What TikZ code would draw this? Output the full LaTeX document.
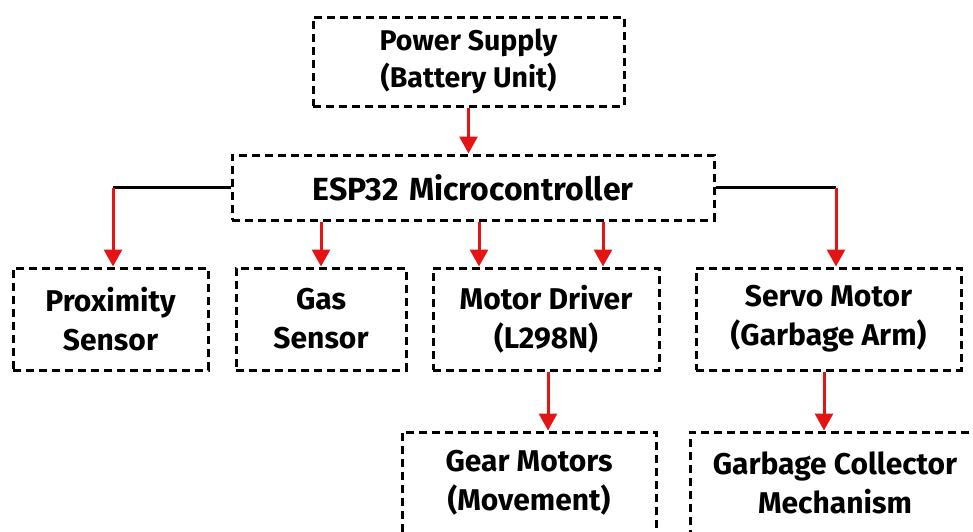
\documentclass[tikz,border=0pt]{standalone}
\usepackage{fontspec}
\setmainfont{Fira Sans}
\usetikzlibrary{arrows.meta}
\definecolor{arrred}{RGB}{228,20,20}
\begin{document}
\begin{tikzpicture}[x=1pt,y=-1pt,
  box/.style={draw=black, line width=3pt, dash pattern=on 8pt off 5pt, rectangle, align=center,
    inner sep=0pt, font=\fontsize{30}{39}\selectfont\bfseries},
  arr/.style={draw=arrred, line width=3pt, -{Triangle[width=18pt,length=17pt]}},
  blk/.style={draw=black, line width=2.6pt}]
\useasboundingbox (0,0) rectangle (973,531);
\clip (0,0) rectangle (973,531);
\node[box, minimum width=311pt, minimum height=89pt, font=\fontsize{28.5}{37}\selectfont\bfseries] (ps) at (468.5,61.5) {Power Supply\\(Battery Unit)};
\node[box, minimum width=482pt, minimum height=65pt, font=\fontsize{32}{38}\selectfont\bfseries] (esp) at (473,187.5) {ESP32\,\,Microcontroller};
\node[box, minimum width=195pt, minimum height=102pt] (prox) at (110.5,319) {Proximity\\Sensor};
\node[box, minimum width=170pt, minimum height=102pt] (gas) at (321,319) {Gas\\Sensor};
\node[box, minimum width=226pt, minimum height=102pt] (md) at (546,319) {Motor Driver\\(L298N)};
\node[box, minimum width=265pt, minimum height=102pt] (servo) at (828.5,319) {Servo Motor\\(Garbage Arm)};
\node[box, minimum width=254pt, minimum height=102pt] (gear) at (529,483) {Gear Motors\\(Movement)};
\node[box, minimum width=290pt, minimum height=102pt] (gc) at (835,483) {Garbage Collector\\Mechanism};
\coordinate (lc) at (113,187.5);
\coordinate (rc) at (836,187.5);
\draw[arr] (ps.south) -- (esp.north -| ps.south);
\draw[blk] (esp.west) -- (lc);
\draw[arr] (lc) -- (prox.north -| lc);
\draw[blk] (esp.east) -- (rc);
\draw[arr] (rc) -- (servo.north -| rc);
\draw[arr] (esp.south -| gas.north) -- (gas.north);
\coordinate (m1) at (479,0);
\coordinate (m2) at (603,0);
\draw[arr] (esp.south -| m1) -- (md.north -| m1);
\draw[arr] (esp.south -| m2) -- (md.north -| m2);
\coordinate (g1) at (548,0);
\coordinate (g2) at (824,0);
\draw[arr] (md.south -| g1) -- (gear.north -| g1);
\draw[arr] (servo.south -| g2) -- (gc.north -| g2);
\end{tikzpicture}
\end{document}
